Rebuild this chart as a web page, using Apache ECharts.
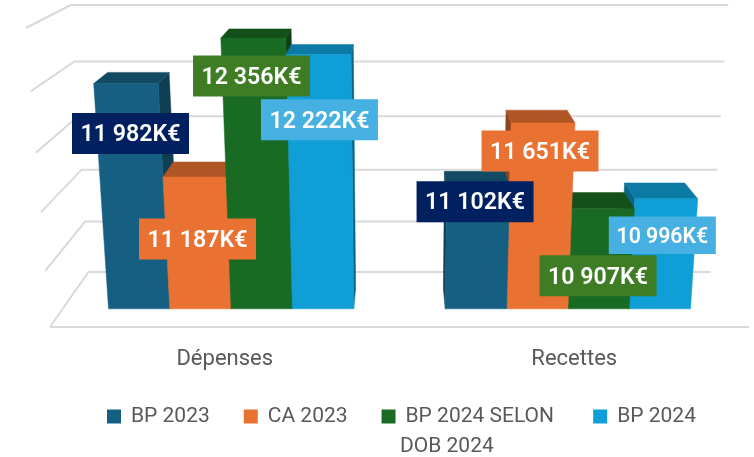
<!DOCTYPE html>
<html>
<head>
<meta charset="utf-8">
<title>BP / CA</title>
<style>
    html, body { margin: 0; padding: 0; background: #fff; }
    #charts { width: 754px; height: 457px; }
</style>
</head>
<body>
<div id="charts"></div>
<script src="https://cdn.jsdelivr.net/npm/echarts@6/dist/echarts.min.js"></script>
<script>
var categories = ['Dépenses', 'Recettes'];
var seriesNames = ['BP 2023', 'CA 2023', 'BP 2024 SELON DOB 2024', 'BP 2024'];
var bp2023 = [11982, 11102];
var ca2023 = [11187, 11651];
var bp2024Dob = [12356, 10907];
var bp2024 = [12222, 10996];
var gridTicks = [10000, 10500, 11000, 11500, 12000, 12500];

var seriesValues = [bp2023, ca2023, bp2024Dob, bp2024];
var frontColors = ['#156082', '#E97132', '#196B24', '#0F9ED5'];
var topColors = ['#124A63', '#B05624', '#13501A', '#0C7AA5'];
var sideColors = ['#0E3F55', '#8C451C', '#0F4015', '#0A6488'];
var labelColors = ['#002060', '#E97132', '#3F7D25', '#45B0E1'];

// decalage des etiquettes par rapport au haut de la barre : [dx, dy, echelle]
var labelShift = [
    [[4.6, 50, 1], [-3, 15, 1]],
    [[3, 62, 1], [-3, 28, 1]],
    [[-1.8, 38, 1], [-5, 67, 1]],
    [[0.8, 65.3, 1], [-4, 36.5, 0.915]]
];

var barFront = 0.33, barBack = 0.70; // profondeur de la barre sur le sol
var barShare = 0.182;

// fausse perspective : plan avant de la grille -> ecran
function project(px, py, depth, sys) {
    var cx = sys.x + sys.width / 2;
    var bottom = sys.y + sys.height;
    var t = (bottom - py) / sys.height;
    var f = 0.93 * t + 0.07 * t * t;
    var yFront = bottom - sys.height * f;
    var yBack = bottom - 55 - sys.height * 0.893 * f;
    var scale = (1 - 0.11 * depth) * (1 + (0.069 - 0.012 * depth) * f);
    return [cx + (px - cx) * scale, yFront + (yBack - yFront) * depth];
}

function renderWall(params, api) {
    var sys = params.coordSys;
    var y = api.coord([0, api.value(1)])[1];
    var right = sys.x + sys.width;
    var children = [{
        type: 'polyline',
        z2: 0,
        shape: { points: [project(sys.x, y, 0, sys), project(sys.x, y, 1, sys), project(right, y, 1, sys)] },
        style: { stroke: '#D9D9D9', lineWidth: 2, fill: null }
    }];
    if (api.value(1) === gridTicks[0]) {
        children.push({
            type: 'line',
            z2: 0,
            shape: { x1: sys.x, y1: y, x2: right, y2: y },
            style: { stroke: '#D9D9D9', lineWidth: 2 }
        });
    }
    return { type: 'group', children: children };
}

function polygon(points, color, z2) {
    return {
        type: 'polygon',
        z2: z2,
        shape: { points: points },
        style: { fill: color, stroke: color, lineWidth: 0.5 }
    };
}

function makeBarRender(s) {
    return function (params, api) {
        var sys = params.coordSys;
        var cat = api.value(0);
        var base = api.coord([cat, gridTicks[0]]);
        var top = api.coord([cat, api.value(1)]);
        var w = api.size([1, 0])[0] * barShare;
        var x0 = base[0] + (s - 2) * w;
        var x1 = x0 + w;
        var cx = sys.x + sys.width / 2;
        // a gauche du centre on peint de gauche a droite, a droite l'inverse
        var leftOfCentre = x1 < cx;
        var order = leftOfCentre ? s : 3 - s;
        var z2 = 10 + order * 3;

        var fl = project(x0, base[1], barFront, sys);
        var fr = project(x1, base[1], barFront, sys);
        var tl = project(x0, top[1], barFront, sys);
        var tr = project(x1, top[1], barFront, sys);
        var bl = project(x0, top[1], barBack, sys);
        var br = project(x1, top[1], barBack, sys);
        var sideX = leftOfCentre ? x1 : x0;
        var side = [
            project(sideX, base[1], barFront, sys),
            project(sideX, top[1], barFront, sys),
            project(sideX, top[1], barBack, sys),
            project(sideX, base[1], barBack, sys)
        ];

        var shift = labelShift[s][cat];
        var lx = (tl[0] + tr[0]) / 2 + shift[0];
        var ly = tl[1] + shift[1];
        var boxW = 117 * shift[2], boxH = 41 * shift[2];

        return {
            type: 'group',
            children: [
                polygon(side, sideColors[s], z2),
                polygon([tl, tr, br, bl], topColors[s], z2 + 1),
                polygon([fl, fr, tr, tl], frontColors[s], z2 + 2),
                {
                    type: 'rect',
                    z2: 100,
                    shape: { x: lx - boxW / 2, y: ly - boxH / 2, width: boxW, height: boxH },
                    style: { fill: labelColors[s] }
                },
                {
                    type: 'text',
                    z2: 101,
                    x: lx,
                    y: ly + 2,
                    style: {
                        text: String(api.value(1)).replace(/\B(?=(\d{3})+$)/g, ' ') + 'K€',
                        fill: '#fff',
                        font: '600 ' + (23.2 * shift[2]) + 'px Roboto',
                        align: 'center',
                        verticalAlign: 'middle'
                    }
                }
            ]
        };
    };
}

var series = [{
    name: 'grille',
    type: 'custom',
    silent: true,
    renderItem: renderWall,
    data: gridTicks.map(function (v) { return [0, v]; })
}];
seriesNames.forEach(function (name, s) {
    series.push({
        name: name,
        type: 'custom',
        silent: true,
        itemStyle: { color: frontColors[s] },
        renderItem: makeBarRender(s),
        encode: { x: 0, y: 1 },
        data: seriesValues[s].map(function (v, i) { return [i, v]; })
    });
});

var myChart = echarts.init(document.getElementById('charts'));
myChart.setOption({
    animation: false,
    grid: { left: 50, right: 5, top: 28, bottom: 130 },
    xAxis: {
        type: 'category',
        data: categories,
        axisLine: { show: false },
        axisTick: { show: false },
        axisLabel: { color: '#595959', fontFamily: 'Roboto', fontSize: 22, margin: 21 }
    },
    yAxis: {
        type: 'value',
        min: 10000,
        max: 12500,
        interval: 500,
        axisLabel: { show: false },
        axisLine: { show: false },
        axisTick: { show: false },
        splitLine: { show: false }
    },
    legend: {
        data: seriesNames,
        left: 107,
        top: 406,
        padding: 0,
        icon: 'rect',
        itemWidth: 14,
        itemHeight: 14,
        itemGap: 34,
        selectedMode: false,
        textStyle: { color: '#595959', fontFamily: 'Roboto', fontSize: 21, padding: [2, 0, 0, 5] },
        formatter: function (name) { return name.replace('DOB 2024', ''); }
    },
    graphic: [{
        type: 'text',
        left: 400,
        top: 436,
        style: { text: 'DOB 2024', fill: '#595959', font: '21px Roboto' }
    }],
    series: series
});
</script>
</body>
</html>
